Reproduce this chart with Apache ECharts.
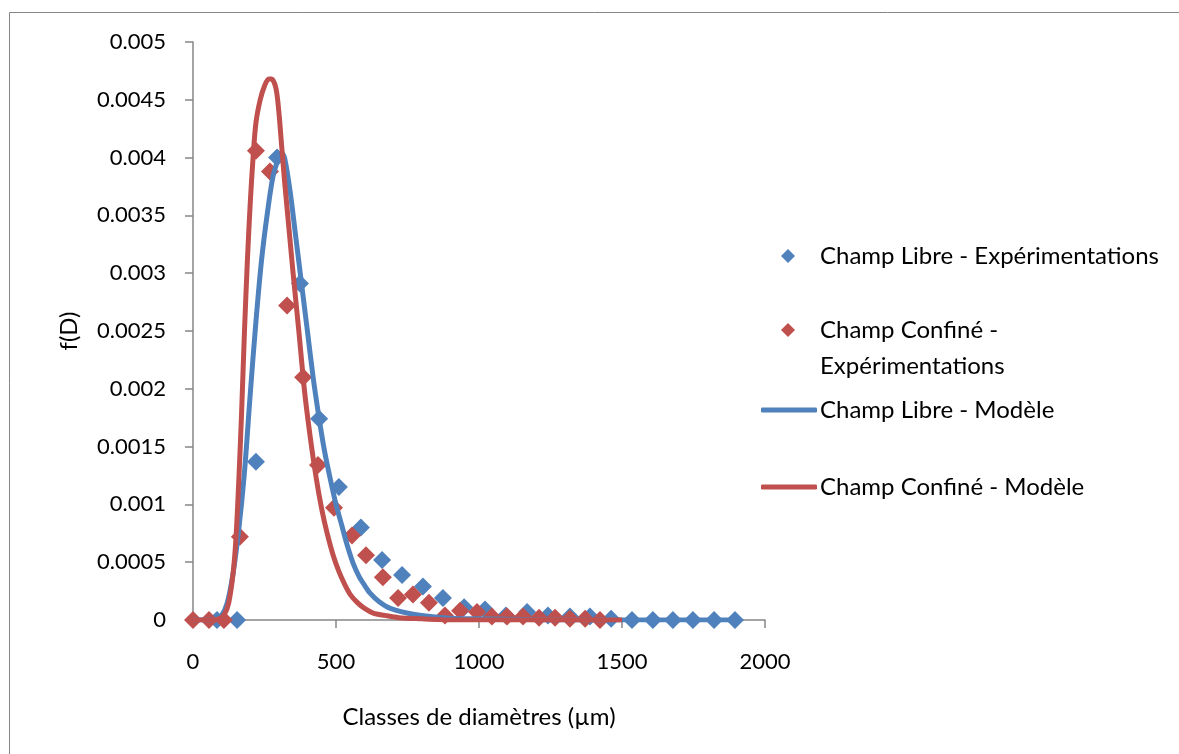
<!DOCTYPE html>
<html>
<head>
<meta charset="utf-8">
<title>f(D)</title>
<script src="https://cdn.jsdelivr.net/npm/echarts@6/dist/echarts.min.js"></script>
<style>
    html, body { margin: 0; padding: 0; background: #fff; }
    #chart { width: 1179px; height: 754px; }
</style>
</head>
<body>
<div id="chart"></div>
<script>
// Données expérimentales - champ libre (diamètre µm, f(D))
const libreExpD = [84, 154, 220, 294, 374, 441, 510, 587, 661, 731, 804, 874, 948, 1021, 1094, 1168, 1241, 1318, 1388, 1462, 1535, 1608, 1678, 1748, 1822, 1895];
const libreExpF = [0, 0, 0.00137, 0.00400, 0.00291, 0.00174, 0.00115, 0.00080, 0.00052, 0.00039, 0.00029, 0.00019, 0.00011, 0.00009, 0.00004, 0.00007, 0.00004, 0.00003, 0.00003, 0.00001, 0, 0, 0, 0, 0, 0];

// Données expérimentales - champ confiné
const confineExpD = [0, 56, 108, 164, 220, 269, 329, 385, 437, 493, 556, 605, 664, 717, 769, 825, 881, 934, 993, 1045, 1098, 1154, 1210, 1266, 1318, 1371, 1423];
const confineExpF = [0, 0, 0, 0.00072, 0.00406, 0.00388, 0.00272, 0.00210, 0.00134, 0.00097, 0.00073, 0.00056, 0.00037, 0.00019, 0.00022, 0.00015, 0.00004, 0.00008, 0.00007, 0.00003, 0.00003, 0.00003, 0.00002, 0.00002, 0.00001, 0.00001, 0];

// Modèle - champ libre
const libreModD = [0, 60, 80, 100, 120, 140, 160, 180, 200, 220, 240, 260, 280, 300, 310, 320, 340, 360, 380, 400, 420, 440, 460, 480, 500, 520, 540, 560, 580, 600, 620, 650, 690, 770, 900, 1000, 1200, 1500, 1900];
const libreModF = [0, 0, 0.00001, 0.00004, 0.00015, 0.0004, 0.00078, 0.00128, 0.00195, 0.00258, 0.00312, 0.00352, 0.00384, 0.00400, 0.00404, 0.00400, 0.00370, 0.00330, 0.00290, 0.00250, 0.00210, 0.00176, 0.00146, 0.00122, 0.00100, 0.00082, 0.00064, 0.00049, 0.00038, 0.00030, 0.00023, 0.00016, 0.00010, 0.00005, 0.000015, 0.00001, 0.000003, 0, 0];

// Modèle - champ confiné
const confineModD = [0, 50, 90, 110, 125, 140, 150, 160, 170, 180, 190, 200, 210, 220, 235, 250, 265, 275, 290, 300, 310, 320, 335, 350, 370, 390, 410, 430, 450, 470, 490, 510, 530, 550, 575, 600, 630, 670, 720, 800, 900, 1500];
const confineModF = [0, 0, 0.00001, 0.00005, 0.00015, 0.0004, 0.0007, 0.0012, 0.0018, 0.0025, 0.0031, 0.0036, 0.0040, 0.0043, 0.0045, 0.00462, 0.00468, 0.00468, 0.0046, 0.0044, 0.0041, 0.0038, 0.0034, 0.0030, 0.0025, 0.00198, 0.00158, 0.00124, 0.00096, 0.00074, 0.00056, 0.00042, 0.00031, 0.00022, 0.00015, 0.0001, 0.00006, 0.00004, 0.00002, 0.00001, 0, 0];

const names = ['Champ Libre - Expérimentations', 'Champ Confiné - Expérimentations', 'Champ Libre - Modèle', 'Champ Confiné - Modèle'];
const bleu = '#4F81BD';
const rouge = '#C0504D';
const police = 'Lato';

function paires(xs, ys) {
    return xs.map((x, i) => [x, ys[i]]);
}

const myChart = echarts.init(document.getElementById('chart'));

const legendeTexte = { fontFamily: police, fontSize: 24, color: '#000', lineHeight: 36 };

myChart.setOption({
    animation: false,
    backgroundColor: '#fff',
    graphic: [{
        type: 'rect',
        shape: { x: 9.5, y: 12.5, width: 1300, height: 900 },
        style: { fill: 'none', stroke: '#868686', lineWidth: 1 },
        silent: true
    }],
    grid: { left: 193, right: 414, top: 42, bottom: 134 },
    legend: [
        {
            left: 781, top: 238, padding: 0, orient: 'vertical', data: [names[0]],
            icon: 'diamond', itemWidth: 14, itemHeight: 14,
            textStyle: Object.assign({ padding: [0, 0, 0, 20] }, legendeTexte)
        },
        {
            // ligne vide en tête : l'icône reste alignée sur la 1re ligne de texte
            left: 781, top: 276, padding: 0, orient: 'vertical', data: [names[1]],
            icon: 'diamond', itemWidth: 14, itemHeight: 14,
            formatter: () => ' \nChamp Confiné -\nExpérimentations',
            textStyle: Object.assign({ padding: [0, 0, 0, 20] }, legendeTexte)
        },
        {
            left: 761, top: 392, padding: 0, orient: 'vertical', data: [names[2]],
            icon: 'roundRect', itemWidth: 56, itemHeight: 5,
            textStyle: Object.assign({ padding: [0, 0, 0, -2] }, legendeTexte)
        },
        {
            left: 761, top: 469, padding: 0, orient: 'vertical', data: [names[3]],
            icon: 'roundRect', itemWidth: 56, itemHeight: 5,
            textStyle: Object.assign({ padding: [0, 0, 0, -2] }, legendeTexte)
        }
    ],
    xAxis: {
        type: 'value',
        min: 0,
        max: 2000,
        interval: 500,
        name: 'Classes de diamètres (µm)',
        nameLocation: 'middle',
        nameGap: 85,
        nameTextStyle: { fontFamily: police, fontSize: 24, color: '#000' },
        axisLine: { lineStyle: { color: '#868686', width: 1.5 } },
        axisTick: { inside: false, length: 8, lineStyle: { color: '#868686', width: 1.5 } },
        axisLabel: {
            margin: 31, fontFamily: police, fontSize: 22, color: '#000',
            formatter: v => String(v)
        },
        splitLine: { show: false }
    },
    yAxis: {
        type: 'value',
        min: 0,
        max: 0.005,
        interval: 0.0005,
        name: 'f(D)',
        nameLocation: 'middle',
        nameRotate: 90,
        nameGap: 112,
        nameTextStyle: { fontFamily: police, fontSize: 24, color: '#000' },
        axisLine: { show: true, lineStyle: { color: '#868686', width: 1.5 } },
        axisTick: { show: true, inside: false, length: 8, lineStyle: { color: '#868686', width: 1.5 } },
        axisLabel: {
            margin: 27, fontFamily: police, fontSize: 22, color: '#000',
            formatter: v => (v === 0 ? '0' : String(+v.toFixed(4)))
        },
        splitLine: { show: false }
    },
    series: [
        {
            name: names[0],
            type: 'scatter',
            symbol: 'diamond',
            symbolSize: 18,
            itemStyle: { color: bleu, opacity: 1 },
            data: paires(libreExpD, libreExpF),
            z: 2
        },
        {
            name: names[1],
            type: 'scatter',
            symbol: 'diamond',
            symbolSize: 18,
            itemStyle: { color: rouge, opacity: 1 },
            data: paires(confineExpD, confineExpF),
            z: 3
        },
        {
            name: names[2],
            type: 'line',
            showSymbol: false,
            smooth: 0.3,
            lineStyle: { color: bleu, width: 5 },
            itemStyle: { color: bleu },
            data: paires(libreModD, libreModF),
            z: 4
        },
        {
            name: names[3],
            type: 'line',
            showSymbol: false,
            smooth: 0.3,
            lineStyle: { color: rouge, width: 5 },
            itemStyle: { color: rouge },
            data: paires(confineModD, confineModF),
            z: 5
        }
    ]
});

window.addEventListener('resize', () => {
    myChart.resize();
});
</script>
</body>
</html>
